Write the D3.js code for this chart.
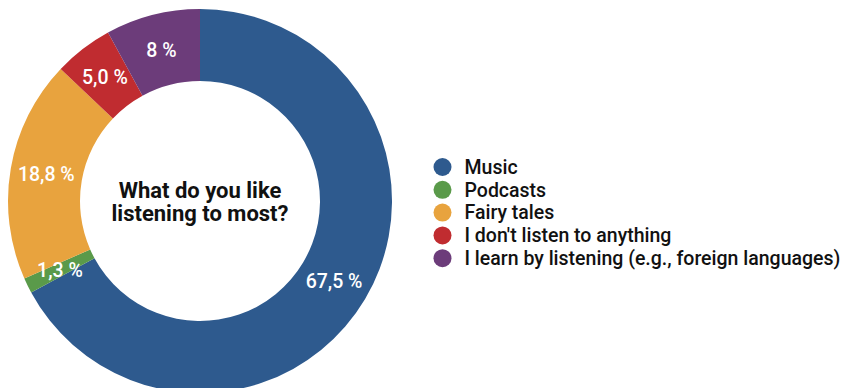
<!DOCTYPE html>
<html>
<head>
<meta charset="utf-8">
<script src="https://cdn.jsdelivr.net/npm/d3@7"></script>
<style>
  html, body { margin: 0; padding: 0; background: #fff; }
  svg { display: block; font-family: Roboto, "Noto Sans", sans-serif; }
</style>
</head>
<body>
<svg id="chart" width="844" height="388"></svg>
<script>
// Survey answers, in drawing order (clockwise from 12 o'clock)
const categories = ["Music", "Podcasts", "Fairy tales", "I don't listen to anything", "I learn by listening (e.g., foreign languages)"];
const values = [67.5, 1.3, 18.8, 5.0, 8];
const valueLabels = ["67,5 %", "1,3 %", "18,8 %", "5,0 %", "8 %"];
const colors = ["#2e5a8e", "#5a9a4a", "#e8a33e", "#c02c30", "#6c3c7a"];
const titleLines = ["What do you like", "listening to most?"];

const svg = d3.select("#chart");
const cx = 200, cy = 201;
const outerR = 192, innerR = 120;

const color = d3.scaleOrdinal().domain(categories).range(colors);

const pie = d3.pie().value(d => d.value).sort(null);
const data = categories.map((c, i) => ({ name: c, value: values[i], label: valueLabels[i] }));
const arcs = pie(data);

const arc = d3.arc().innerRadius(innerR).outerRadius(outerR);
const labelArc = d3.arc().innerRadius((innerR + outerR) / 2).outerRadius((innerR + outerR) / 2);

const g = svg.append("g").attr("transform", `translate(${cx},${cy})`);

g.selectAll("path.slice")
  .data(arcs)
  .join("path")
  .attr("class", "slice")
  .attr("d", arc)
  .attr("fill", d => color(d.data.name));

g.selectAll("text.val")
  .data(arcs)
  .join("text")
  .attr("class", "val")
  .attr("transform", d => `translate(${labelArc.centroid(d)})`)
  .attr("text-anchor", "middle")
  .attr("dy", "0.35em")
  .attr("fill", "#fff")
  .attr("font-size", 19.5)
  .attr("font-weight", 500)
  .text(d => d.data.label);

// Centre title
g.append("text")
  .attr("text-anchor", "middle")
  .attr("font-size", 22)
  .attr("font-weight", 700)
  .attr("fill", "#111")
  .selectAll("tspan")
  .data(titleLines)
  .join("tspan")
  .attr("x", 0)
  .attr("y", (d, i) => -3 + i * 23)
  .text(d => d);

// Legend
const legend = svg.append("g").attr("transform", "translate(442.5,167)");
const rowH = 22.8;
const rows = legend.selectAll("g.row")
  .data(categories)
  .join("g")
  .attr("class", "row")
  .attr("transform", (d, i) => `translate(0,${i * rowH})`);

rows.append("circle")
  .attr("r", 9)
  .attr("fill", d => color(d));

rows.append("text")
  .attr("x", 22)
  .attr("dy", "0.35em")
  .attr("font-size", 19.5)
  .attr("font-weight", 500)
  .attr("fill", "#111")
  .text(d => d);
</script>
</body>
</html>
